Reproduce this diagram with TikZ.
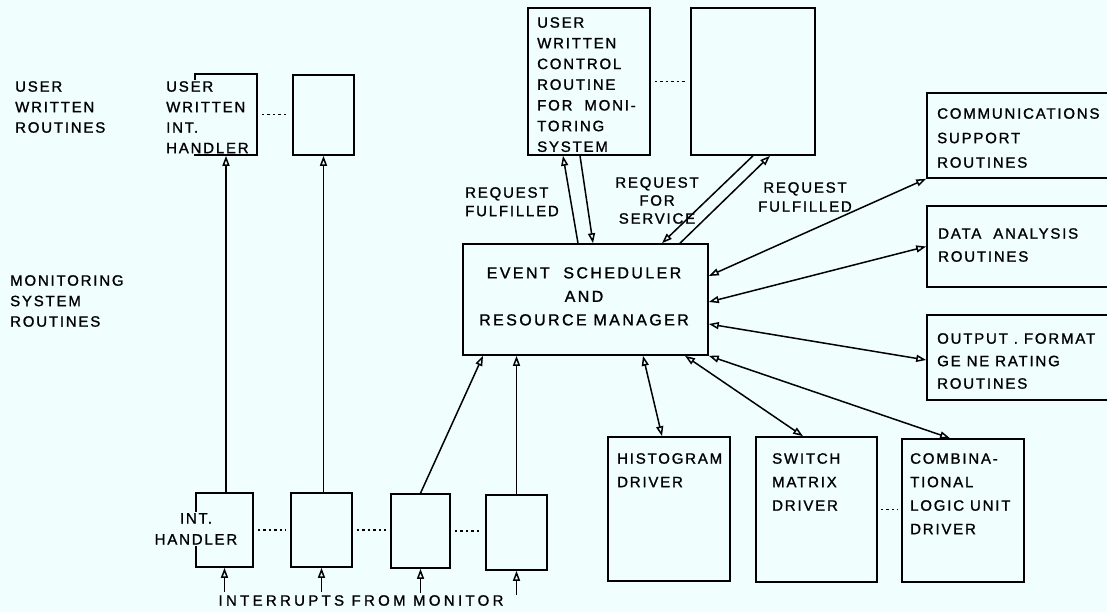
\documentclass[tikz,border=0pt]{standalone}
\usepackage{fontspec}
\setmainfont{Liberation Sans}[LetterSpace=12, FakeBold=1.2]
\usetikzlibrary{arrows.meta}
\definecolor{paper}{RGB}{240,254,254}
\newcommand{\lbl}{\fontsize{15}{20.5}\selectfont}
\newcommand{\wide}{\fontsize{15}{23.5}\selectfont}

\begin{document}
\begin{tikzpicture}[x=1pt, y=-1pt,
  box/.style={draw, line width=1.6pt, inner sep=0pt},
  sz/.style 2 args={minimum width=#1pt, minimum height=#2pt},
  txt/.style={font=\lbl, align=left, inner sep=0pt, anchor=north west},
  cut/.style={fill=paper, inner sep=1pt},
  arr/.style={-{Triangle[open, length=10pt, width=7pt]}, line width=1.5pt},
  darr/.style={{Triangle[open, length=10pt, width=7pt]}-{Triangle[open, length=10pt, width=7pt]}, line width=1.5pt},
  dots/.style={line width=1.6pt, dash pattern=on 2.5pt off 3pt, shorten <=4pt, shorten >=4pt}
]
\fill[paper] (0,0) rectangle (1107,612);
\useasboundingbox (0,0) rectangle (1107,612);
\clip (0,0) rectangle (1107,612);

% row labels
\node[txt] (userlbl) at (15,81) {USER\\WRITTEN\\ROUTINES};
\node[txt] (monlbl) at (10,275) {MONITORING\\SYSTEM\\ROUTINES};

% user written interrupt handlers
\node[box, sz={62}{81}] (uih) at (226,114.5) {};
\node[box, sz={61}{80}] (uih2) at (323.5,115) {};
\node[txt, cut] (uihtxt) at (165,80) {USER\\WRITTEN\\INT.\\HANDLER};

% control routines
\node[box, sz={122}{147}] (ctl) at (589,81.5) {};
\node[box, sz={124}{147}] (ctl2) at (753,81.5) {};
\node[txt, font=\fontsize{15}{20.7}\selectfont] (ctltxt) at (537,17) {USER\\WRITTEN\\CONTROL\\ROUTINE\\FOR~~MONI-\\TORING\\SYSTEM};

% event scheduler
\node[box, sz={245}{111}] (event) at (585.5,299.5) {};
\node[txt, anchor=north, align=center, font=\fontsize{16}{23.5}\selectfont\addfontfeatures{LetterSpace=15}] (eventtxt) at (584,267) {EVENT~~SCHEDULER\\AND\\RESOURCE~MANAGER};

% support routines
\node[box, sz={193}{85}] (comms) at (1023.5,135.5) {};
\node[box, sz={193}{81}] (data) at (1023.5,246.5) {};
\node[box, sz={193}{85}] (outp) at (1023.5,357.5) {};
\node[txt, font=\fontsize{15}{24.5}\selectfont] (commstxt) at (937,108) {COMMUNICATIONS\\SUPPORT\\ROUTINES};
\node[txt, font=\fontsize{15}{23}\selectfont] (datatxt) at (938,228) {DATA~~ANALYSIS\\ROUTINES};
\node[txt, font=\fontsize{15}{22.5}\selectfont] (outptxt) at (937,333) {OUTPUT~.~FORMAT\\GE~NE~RATING\\ROUTINES};

% drivers
\node[box, sz={122}{144}] (hist) at (669,509) {};
\node[box, sz={121}{145}] (swm) at (816.5,509.5) {};
\node[box, sz={122}{143}] (clu) at (963,510.5) {};
\node[txt, font=\wide] (histtxt) at (617,453) {HISTOGRAM\\DRIVER};
\node[txt, font=\wide] (swmtxt) at (772,453) {SWITCH\\MATRIX\\DRIVER};
\node[txt, font=\wide] (clutxt) at (910,453) {COMBINA-\\TIONAL\\LOGIC UNIT\\DRIVER};

% monitoring system interrupt handlers
\node[box, sz={57}{74}] (lih1) at (224.5,530) {};
\node[box, sz={61}{74}] (lih2) at (321.5,530) {};
\node[box, sz={59}{74}] (lih3) at (420.5,531) {};
\node[box, sz={61}{75}] (lih4) at (516.5,532.5) {};
\node[txt, cut, anchor=north, align=center, font=\fontsize{15}{21}\selectfont] (lihtxt) at (196,512) {INT.\\HANDLER};
\node[txt, anchor=north, font=\lbl\addfontfeatures{LetterSpace=22}] (intlbl) at (361,595) {INTERRUPTS FROM MONITOR};

% dotted continuations
\draw[dots] (uih.east) -- (uih2.west |- uih.east);
\draw[dots] (ctl.east) -- (ctl2.west);
\draw[dots] (lih1.east) -- (lih2.west);
\draw[dots] (lih2.east) -- (lih3.west |- lih2.east);
\draw[dots] (lih3.east) -- (lih4.west |- lih3.east);
\draw[dots, shorten <=3pt, shorten >=3pt] (swm.east) -- (clu.west |- swm.east);

% interrupts coming in
\foreach \b in {lih1,lih2,lih3,lih4}
  \coordinate (in-\b) at ([yshift=-24]\b.south);
\foreach \b in {lih1,lih2,lih3,lih4}
  \draw[arr] (in-\b) -- (\b.south);

% handlers up
\draw[arr] (lih1.north -| uih) -- (uih.south);
\draw[arr] (lih2.north -| uih2) -- (uih2.south);
\draw[arr] (lih3.north) -- ([xshift=-102.5]event.south);
\draw[arr] (lih4.north) -- (lih4.north |- event.south);

% requests
\draw[arr] ([xshift=-7.5]event.north) -- ([xshift=-26]ctl.south);
\draw[arr] ([xshift=-9]ctl.south) -- ([xshift=7.5]event.north);
\draw[arr] (ctl2.south) -- ([xshift=76.5]event.north);
\draw[arr] ([xshift=94.5]event.north) -- ([xshift=17]ctl2.south);
\node[txt, font=\fontsize{15}{18.5}\selectfont] (fulL) at (465,187) {REQUEST\\FULFILLED};
\node[txt, anchor=north, align=center, font=\fontsize{15}{18}\selectfont] (servlbl) at (657,177) {REQUEST\\FOR\\SERVICE};
\node[txt, anchor=north, align=center, font=\fontsize{15}{19}\selectfont] (fulR) at (805,182) {REQUEST\\FULFILLED};

% support and drivers
\draw[darr] ([yshift=23.5]event.east) -- (comms.south west);
\draw[darr] ([yshift=-2.5]event.east) -- (data.west);
\draw[darr] ([yshift=-24.5]event.east) -- ([yshift=-2.5]outp.west);
\draw[darr] (event.south east) -- ([xshift=-13]clu.north);
\draw[darr] ([xshift=99.5]event.south) -- ([xshift=-13.5]swm.north);
\draw[darr] ([xshift=57.5]event.south) -- ([xshift=-7]hist.north);
\end{tikzpicture}
\end{document}
